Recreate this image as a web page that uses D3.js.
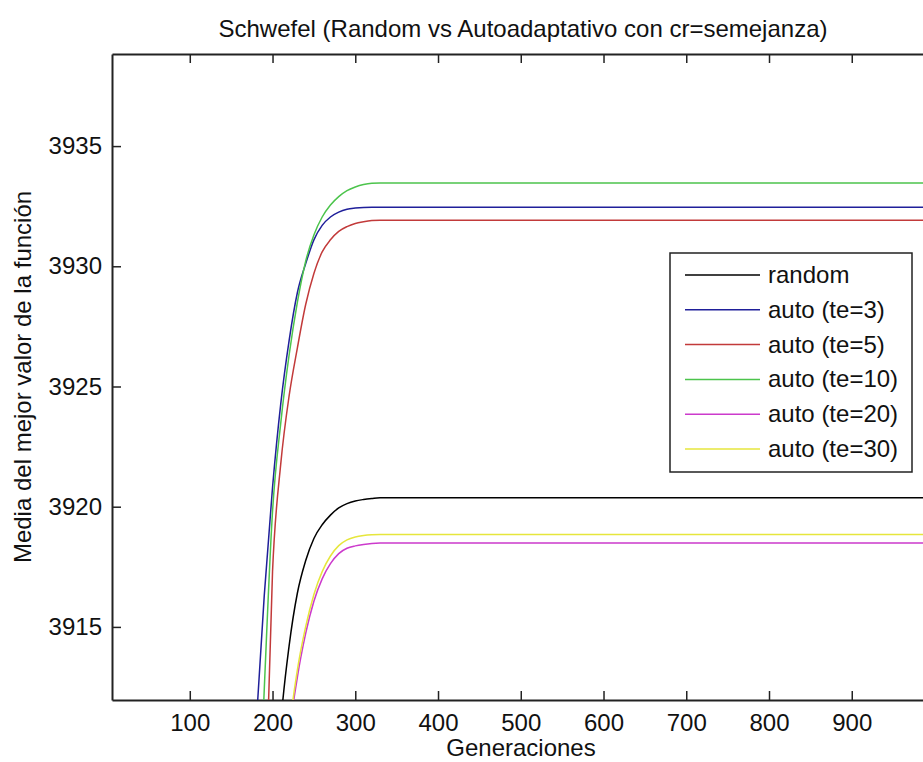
<!DOCTYPE html>
<html>
<head>
<meta charset="utf-8">
<script src="https://cdn.jsdelivr.net/npm/d3@7"></script>
<style>
    body { margin: 0; background: #fff; }
    svg text { font-family: "Liberation Sans", Arial, sans-serif; fill: #111; }
</style>
</head>
<body>
<div id="chart"></div>
<script>
// generations (flat from ~330 to the end)
const generations = [170, 180, 190, 200, 210, 220, 230, 240, 250, 260, 270, 280, 290, 300, 310, 320, 330, 1000];

const seriesNames = ['random', 'auto (te=3)', 'auto (te=5)', 'auto (te=10)', 'auto (te=20)', 'auto (te=30)'];

const randomValues = [null, null, null, 3905.5, 3911.0, 3914.2, 3916.4, 3917.75, 3918.68, 3919.25, 3919.65, 3919.95, 3920.13, 3920.24, 3920.3, 3920.34, 3920.37, 3920.37];
const te3Values = [3904.5, 3910.8, 3916.3, 3920.8, 3924.3, 3926.9, 3928.9, 3930.1, 3931.1, 3931.7, 3932.05, 3932.25, 3932.37, 3932.42, 3932.45, 3932.46, 3932.46, 3932.46];
const te5Values = [null, null, 3906, 3917.3, 3921.8, 3924.6, 3926.6, 3928.4, 3929.7, 3930.6, 3931.1, 3931.45, 3931.65, 3931.78, 3931.85, 3931.9, 3931.92, 3931.92];
const te10Values = [null, 3904, 3912.4, 3919.8, 3923.5, 3926.3, 3928.5, 3930.2, 3931.3, 3932.05, 3932.55, 3932.9, 3933.15, 3933.3, 3933.4, 3933.45, 3933.46, 3933.46];
const te20Values = [null, null, null, null, 3905, 3910.3, 3912.9, 3914.72, 3916.07, 3917.0, 3917.63, 3918.05, 3918.27, 3918.37, 3918.43, 3918.47, 3918.49, 3918.49];
const te30Values = [null, null, null, null, 3905.3, 3910.5, 3913.2, 3915.0, 3916.35, 3917.3, 3917.95, 3918.38, 3918.62, 3918.74, 3918.8, 3918.83, 3918.84, 3918.84];

const xTicks = [100, 200, 300, 400, 500, 600, 700, 800, 900];
const yTicks = [3915, 3920, 3925, 3930, 3935];

const colors = ['#000000', '#1f1f9a', '#c23a3a', '#4cc44c', '#cc3acc', '#e6e63c'];

const width = 923,
    height = 762,
    plotLeft = 112,
    plotTop = 54,
    plotBottom = 700,
    plotRight = 934.5;

const svg = d3.select('#chart')
    .append('svg')
    .attr('width', width)
    .attr('height', height);

const x = d3.scaleLinear().domain([6, 1000]).range([plotLeft, plotRight]);
const y = d3.scaleLinear().domain([3911.96, 3938.83]).range([plotBottom, plotTop]);

svg.append('defs').append('clipPath')
    .attr('id', 'plot')
    .append('rect')
    .attr('x', plotLeft)
    .attr('y', plotTop)
    .attr('width', plotRight - plotLeft)
    .attr('height', plotBottom - plotTop);

// axes, ticks pointing inwards like matlab
const xAxis = d3.axisBottom(x).tickValues(xTicks).tickSizeInner(-9).tickSizeOuter(0).tickPadding(14).tickFormat(d3.format('d'));
const xAxisTop = d3.axisTop(x).tickValues(xTicks).tickSizeInner(-9).tickSizeOuter(0).tickFormat('');
const yAxis = d3.axisLeft(y).tickValues(yTicks).tickSizeInner(-9).tickSizeOuter(0).tickPadding(10).tickFormat(d3.format('d'));

const gx = svg.append('g').attr('transform', 'translate(0,' + plotBottom + ')').call(xAxis);
const gxt = svg.append('g').attr('transform', 'translate(0,' + plotTop + ')').call(xAxisTop);
const gy = svg.append('g').attr('transform', 'translate(' + plotLeft + ',0)').call(yAxis);

[gx, gxt, gy].forEach(function(g) {
    g.selectAll('path').attr('stroke', '#222').attr('stroke-width', 2);
    g.selectAll('line').attr('stroke', '#222').attr('stroke-width', 1.5);
    g.selectAll('text').attr('font-size', 24).attr('font-family', '"Liberation Sans", Arial, sans-serif').attr('fill', '#111');
});
gx.selectAll('text').attr('dy', '0.71em');

// series
const seriesValues = [randomValues, te3Values, te5Values, te10Values, te20Values, te30Values];
const line = d3.line()
    .defined(function(d) { return d.v !== null; })
    .x(function(d) { return x(d.g); })
    .y(function(d) { return y(d.v); })
    .curve(d3.curveMonotoneX);

const plot = svg.append('g').attr('clip-path', 'url(#plot)');

seriesValues.forEach(function(values, i) {
    const pts = generations.map(function(g, j) { return { g: g, v: values[j] }; });
    plot.append('path')
        .datum(pts)
        .attr('fill', 'none')
        .attr('stroke', colors[i])
        .attr('stroke-width', 1.5)
        .attr('d', line);
});

// legend
const legend = svg.append('g');
legend.append('rect')
    .attr('x', 670)
    .attr('y', 253)
    .attr('width', 242)
    .attr('height', 219)
    .attr('fill', '#fff')
    .attr('stroke', '#222')
    .attr('stroke-width', 1.5);

seriesNames.forEach(function(name, i) {
    const ly = 275 + i * 34.8;
    legend.append('line')
        .attr('x1', 685)
        .attr('x2', 760)
        .attr('y1', ly)
        .attr('y2', ly)
        .attr('stroke', colors[i])
        .attr('stroke-width', 1.5);
    legend.append('text')
        .attr('x', 768)
        .attr('y', ly + 8)
        .attr('font-size', 24)
        .text(name);
});

// titles
svg.append('text')
    .attr('x', 523)
    .attr('y', 37)
    .attr('text-anchor', 'middle')
    .attr('font-size', 24)
    .text('Schwefel (Random vs Autoadaptativo con cr=semejanza)');

svg.append('text')
    .attr('x', 521)
    .attr('y', 756)
    .attr('text-anchor', 'middle')
    .attr('font-size', 24)
    .text('Generaciones');

svg.append('text')
    .attr('transform', 'translate(31,377) rotate(-90)')
    .attr('text-anchor', 'middle')
    .attr('font-size', 24)
    .text('Media del mejor valor de la función');
</script>
</body>
</html>
